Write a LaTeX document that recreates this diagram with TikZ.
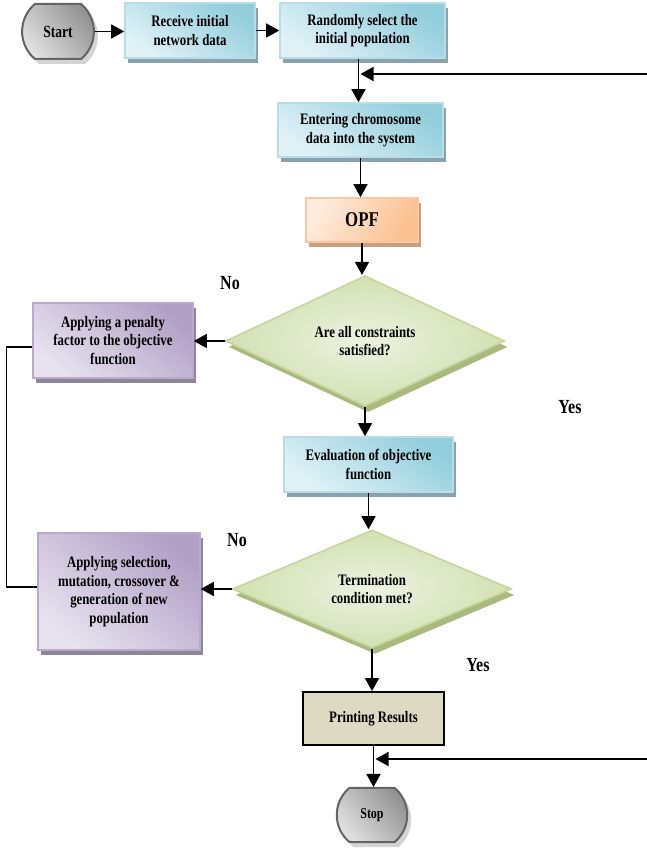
\documentclass[tikz,border=0pt]{standalone}
\usepackage{fontspec}
\setmainfont{Liberation Serif}[FakeStretch=0.8]
\usetikzlibrary{shapes.geometric,shapes.misc,shadows,arrows.meta,calc}
\definecolor{bdark}{RGB}{146,205,220}
\definecolor{blight}{RGB}{225,242,247}
\definecolor{bborder}{RGB}{183,222,232}
\definecolor{bshadow}{RGB}{138,162,173}
\definecolor{odark}{RGB}{250,192,144}
\definecolor{olight}{RGB}{253,236,222}
\definecolor{oborder}{RGB}{250,200,160}
\definecolor{oshadow}{RGB}{200,160,128}
\definecolor{gdark}{RGB}{210,225,178}
\definecolor{glight}{RGB}{236,242,224}
\definecolor{gborder}{RGB}{195,214,155}
\definecolor{gshadow}{RGB}{168,186,125}
\definecolor{pdark}{RGB}{178,161,199}
\definecolor{plight}{RGB}{231,226,238}
\definecolor{pborder}{RGB}{185,170,205}
\definecolor{pshadow}{RGB}{140,135,150}
\definecolor{tanfill}{RGB}{221,217,195}
\definecolor{sdark}{RGB}{100,100,100}
\definecolor{slight}{RGB}{225,225,225}
\definecolor{sshadow}{RGB}{212,212,212}
\tikzset{
  txt/.style={font=\bfseries\fontsize{16}{18.5}\selectfont, align=center, text=black, inner sep=2pt},
  bluebox/.style={txt, rectangle, draw=bborder, line width=1.6pt,
    top color=bdark, bottom color=blight, shading angle=-35,
    drop shadow={shadow xshift=3pt, shadow yshift=-5pt, fill=bshadow, opacity=1}},
  orangebox/.style={rectangle, draw=oborder, line width=1.6pt,
    left color=olight, right color=odark, shading angle=60,
    drop shadow={shadow xshift=3pt, shadow yshift=-5pt, fill=oshadow, opacity=1},
    font=\bfseries\fontsize{21}{24}\selectfont},
  purplebox/.style={txt, rectangle, draw=pborder, line width=1.6pt,
    top color=pdark, bottom color=plight, shading angle=-40,
    drop shadow={shadow xshift=3pt, shadow yshift=-5pt, fill=pshadow, opacity=1}},
  decision/.style={txt, diamond, draw=gborder, line width=1.6pt, inner sep=0pt,
    inner color=glight, outer color=gdark,
    drop shadow={shadow xshift=3pt, shadow yshift=-6pt, fill=gshadow, opacity=1}},
  resultbox/.style={txt, rectangle, draw=black, line width=1.8pt, fill=tanfill},
  term/.style={rounded rectangle, rounded rectangle arc length=100, draw=sdark, line width=2pt,
    top color=sdark!70, bottom color=slight, shading angle=-50,
    drop shadow={shadow xshift=4pt, shadow yshift=-5pt, fill=sshadow, opacity=1}},
  lbl/.style={font=\bfseries\fontsize{20}{22}\selectfont, inner sep=0pt},
  arr/.style={line width=1.6pt, -{Triangle[length=13pt,width=14pt]}},
  link/.style={line width=1.3pt}
}
\begin{document}
\begin{tikzpicture}[x=1pt,y=1pt]
\useasboundingbox (0,0) rectangle (647,852);
% nodes
\node[term, minimum width=70pt, minimum height=55pt, font=\bfseries\fontsize{17}{20}\selectfont] (start) at (58,820.5) {Start};
\node[bluebox, minimum width=130pt, minimum height=55pt] (recv) at (190,821.5) {Receive initial\\network data};
\node[bluebox, minimum width=165pt, minimum height=55pt] (rand) at (362.5,821.5) {Randomly select the\\initial population};
\node[bluebox, minimum width=165pt, minimum height=54pt] (enter) at (360.5,722) {Entering chromosome\\data into the system};
\node[orangebox, minimum width=112pt, minimum height=44pt] (opf) at (362,632) {OPF};
\node[decision, minimum width=279pt, minimum height=117pt] (d1) at (365,511) {Are all constraints\\satisfied?};
\node[purplebox, minimum width=160pt, minimum height=75pt] (pen) at (113,511.5) {Applying a penalty\\factor to the objective\\function};
\node[bluebox, minimum width=169pt, minimum height=55pt] (eval) at (368.5,387.5) {Evaluation of objective\\function};
\node[decision, minimum width=279pt, minimum height=118pt] (d2) at (372,263) {Termination\\condition met?};
\node[purplebox, minimum width=162pt, minimum height=117pt] (sel) at (119,260.5) {Applying selection,\\mutation, crossover \&\\generation of new\\population};
\node[resultbox, minimum width=141pt, minimum height=53pt] (print) at (373.5,133.5) {Printing Results};
\node[term, minimum width=68pt, minimum height=54pt, font=\bfseries\fontsize{15}{18}\selectfont] (stop) at (372,37) {Stop};
% labels
\node[lbl] (no1) at (230,569) {No};
\node[lbl] (yes1) at (570,445) {Yes};
\node[lbl] (no2) at (237,312) {No};
\node[lbl] (yes2) at (478,187) {Yes};
% free ends of the loop-back arrows
\coordinate (fb1) at (647,778);
\coordinate (fb2) at (647,93);
% connectors
\draw[arr] (start.east) -- (start.east -| recv.west);
\draw[arr] (recv.east) -- (recv.east -| rand.west);
\draw[arr] ([xshift=-4pt]rand.south) -- ([xshift=-4pt]rand.south |- enter.north);
\draw[arr] (fb1) -- ([xshift=-2pt]fb1 -| rand.south);
\draw[arr] (enter.south) -- (enter.south |- opf.north);
\draw[arr] (opf.south) -- (opf.south |- d1.north);
\draw[arr] (d1.west) -- (d1.west -| pen.east);
\draw[arr] (d1.south) -- (d1.south |- eval.north);
\draw[arr] (eval.south) -- (eval.south |- d2.north);
\draw[arr] (d2.west) -- (d2.west -| sel.east);
\draw[arr] (d2.south) -- (d2.south |- print.north);
\draw[arr] (print.south) -- (print.south |- stop.north);
\draw[arr] (fb2) -- ([xshift=2pt]fb2 -| print.south);
\draw[link] ([yshift=-6.5pt]pen.west) -- ++(-26,0) |- ([yshift=4.5pt]sel.west);
\end{tikzpicture}
\end{document}
